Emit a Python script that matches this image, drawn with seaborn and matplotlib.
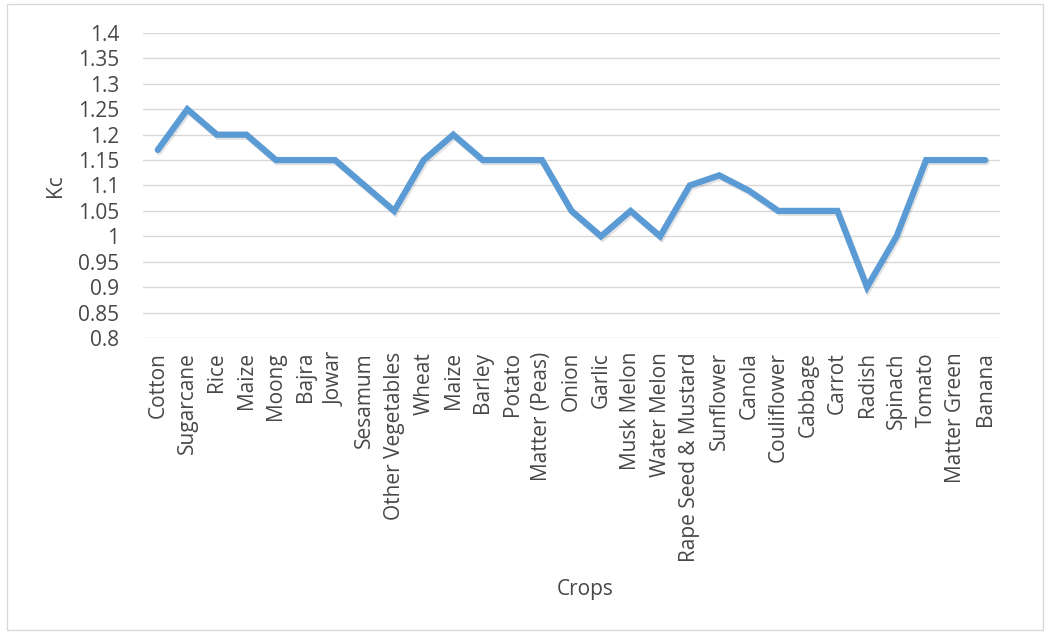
import matplotlib
matplotlib.use("Agg")
import matplotlib.pyplot as plt
import matplotlib.patheffects as pe
from matplotlib.patches import Rectangle
import numpy as np
import pandas as pd
import seaborn as sns

crops = ["Cotton", "Sugarcane", "Rice", "Maize", "Moong", "Bajra", "Jowar", "Sesamum",
         "Other Vegetables", "Wheat", "Maize", "Barley", "Potato", "Matter (Peas)", "Onion",
         "Garlic", "Musk Melon", "Water Melon", "Rape Seed & Mustard", "Sunflower", "Canola",
         "Couliflower", "Cabbage", "Carrot", "Radish", "Spinach", "Tomato", "Matter Green", "Banana"]
kc = [1.17, 1.25, 1.20, 1.20, 1.15, 1.15, 1.15, 1.10,
      1.05, 1.15, 1.20, 1.15, 1.15, 1.15, 1.05,
      1.00, 1.05, 1.00, 1.10, 1.12, 1.09,
      1.05, 1.05, 1.05, 0.90, 1.00, 1.15, 1.15, 1.15]
y_ticks = [0.8, 0.85, 0.9, 0.95, 1.0, 1.05, 1.1, 1.15, 1.2, 1.25, 1.3, 1.35, 1.4]
y_tick_labels = ["0.8", "0.85", "0.9", "0.95", "1", "1.05", "1.1", "1.15", "1.2", "1.25", "1.3", "1.35", "1.4"]

sns.set_theme(style="white")
plt.rcParams["font.family"] = ["Open Sans", "DejaVu Sans"]

df = pd.DataFrame({"pos": np.arange(len(crops)), "Kc": kc})

TEXT = "#474747"
W, H = 1049, 634
fig = plt.figure(figsize=(W / 100, H / 100), dpi=100)
ax = fig.add_axes([143 / W, 1 - 338 / H, (1000 - 143) / W, (338 - 33) / H])

# light frame around the whole chart area
fig.patches.append(Rectangle((7 / W, 4 / H), (1043 - 7) / W, (630 - 4) / H,
                             transform=fig.transFigure, fill=False,
                             edgecolor="#D9D9D9", linewidth=1.0))

for yv in y_ticks:
    ax.axhline(yv, color="#D9D9D9", linewidth=1.0, zorder=0)

sns.lineplot(data=df, x="pos", y="Kc", ax=ax, color="#5B9BD5", linewidth=4.5,
             solid_joinstyle="miter", solid_capstyle="round",
             path_effects=[pe.SimpleLineShadow(offset=(1.0, -1.5), alpha=0.12, rho=0.5),
                           pe.Normal()])

ax.set_xlim(-0.5, len(crops) - 0.5)
ax.set_ylim(0.8, 1.4)
ax.set_yticks(y_ticks)
ax.set_yticklabels(y_tick_labels)
ax.set_xticks(np.arange(len(crops)))
ax.set_xticklabels(crops, rotation=90)

for s in ax.spines.values():
    s.set_visible(False)
ax.tick_params(axis="both", length=0, labelsize=15, labelcolor=TEXT)
ax.tick_params(axis="y", pad=17)
ax.tick_params(axis="x", pad=10)

ax.set_ylabel("Kc", fontsize=15, color=TEXT)
ax.yaxis.set_label_coords(-(143 - 66) / (1000 - 143), 0.5)
ax.set_xlabel("Crops", fontsize=15, color=TEXT)
ax.xaxis.set_label_coords((585 - 143) / (1000 - 143), -(579 - 338) / (338 - 33))

fig.savefig("out.png", dpi=100)
